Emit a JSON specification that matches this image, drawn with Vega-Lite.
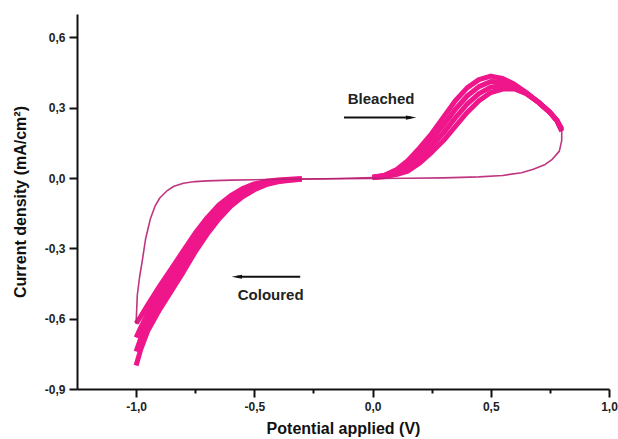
{
  "$schema": "https://vega.github.io/schema/vega-lite/v6.json",
  "autosize": {"type": "none"},
  "padding": {"left": 77, "top": 14, "right": 9, "bottom": 50},
  "width": 532,
  "height": 375,
  "background": "white",
  "datasets": {
    "cv": [
      {"s":"up","E":-1.0,"I":-0.62},{"s":"up","E":-0.995,"I":-0.5},{"s":"up","E":-0.985,"I":-0.42},{"s":"up","E":-0.975,"I":-0.36},{"s":"up","E":-0.96,"I":-0.26},{"s":"up","E":-0.94,"I":-0.175},{"s":"up","E":-0.92,"I":-0.12},{"s":"up","E":-0.9,"I":-0.085},{"s":"up","E":-0.87,"I":-0.055},{"s":"up","E":-0.84,"I":-0.035},{"s":"up","E":-0.8,"I":-0.022},{"s":"up","E":-0.75,"I":-0.015},{"s":"up","E":-0.7,"I":-0.012},{"s":"up","E":-0.6,"I":-0.009},{"s":"up","E":-0.5,"I":-0.007},{"s":"up","E":-0.4,"I":-0.005},{"s":"up","E":-0.3,"I":-0.004},{"s":"up","E":-0.2,"I":-0.003},{"s":"up","E":-0.1,"I":-0.001},{"s":"up","E":0,"I":0.002},

      {"s":"p0","E":0,"I":0.002},{"s":"p0","E":0.05,"I":0.006},{"s":"p0","E":0.1,"I":0.015},{"s":"p0","E":0.15,"I":0.03},{"s":"p0","E":0.2,"I":0.065},{"s":"p0","E":0.25,"I":0.11},{"s":"p0","E":0.3,"I":0.16},{"s":"p0","E":0.35,"I":0.22},{"s":"p0","E":0.4,"I":0.28},{"s":"p0","E":0.45,"I":0.33},{"s":"p0","E":0.5,"I":0.365},{"s":"p0","E":0.55,"I":0.38},{"s":"p0","E":0.6,"I":0.38},{"s":"p0","E":0.65,"I":0.36},{"s":"p0","E":0.7,"I":0.325},{"s":"p0","E":0.75,"I":0.28},{"s":"p0","E":0.78,"I":0.245},{"s":"p0","E":0.8,"I":0.21},

      {"s":"p1","E":0,"I":0.003},{"s":"p1","E":0.05,"I":0.008},{"s":"p1","E":0.1,"I":0.022},{"s":"p1","E":0.15,"I":0.045},{"s":"p1","E":0.2,"I":0.087},{"s":"p1","E":0.25,"I":0.137},{"s":"p1","E":0.3,"I":0.193},{"s":"p1","E":0.35,"I":0.257},{"s":"p1","E":0.4,"I":0.315},{"s":"p1","E":0.45,"I":0.36},{"s":"p1","E":0.5,"I":0.388},{"s":"p1","E":0.55,"I":0.395},{"s":"p1","E":0.6,"I":0.387},{"s":"p1","E":0.65,"I":0.362},{"s":"p1","E":0.7,"I":0.325},{"s":"p1","E":0.75,"I":0.28},{"s":"p1","E":0.78,"I":0.245},{"s":"p1","E":0.8,"I":0.207},

      {"s":"p2","E":0,"I":0.003},{"s":"p2","E":0.05,"I":0.01},{"s":"p2","E":0.1,"I":0.028},{"s":"p2","E":0.15,"I":0.06},{"s":"p2","E":0.2,"I":0.108},{"s":"p2","E":0.25,"I":0.163},{"s":"p2","E":0.3,"I":0.227},{"s":"p2","E":0.35,"I":0.293},{"s":"p2","E":0.4,"I":0.35},{"s":"p2","E":0.45,"I":0.39},{"s":"p2","E":0.5,"I":0.412},{"s":"p2","E":0.55,"I":0.41},{"s":"p2","E":0.6,"I":0.393},{"s":"p2","E":0.65,"I":0.363},{"s":"p2","E":0.7,"I":0.325},{"s":"p2","E":0.75,"I":0.28},{"s":"p2","E":0.78,"I":0.245},{"s":"p2","E":0.8,"I":0.203},

      {"s":"p3","E":0,"I":0.004},{"s":"p3","E":0.05,"I":0.012},{"s":"p3","E":0.1,"I":0.035},{"s":"p3","E":0.15,"I":0.075},{"s":"p3","E":0.2,"I":0.13},{"s":"p3","E":0.25,"I":0.19},{"s":"p3","E":0.3,"I":0.26},{"s":"p3","E":0.35,"I":0.33},{"s":"p3","E":0.4,"I":0.385},{"s":"p3","E":0.45,"I":0.42},{"s":"p3","E":0.5,"I":0.435},{"s":"p3","E":0.55,"I":0.425},{"s":"p3","E":0.6,"I":0.4},{"s":"p3","E":0.65,"I":0.365},{"s":"p3","E":0.7,"I":0.325},{"s":"p3","E":0.75,"I":0.28},{"s":"p3","E":0.78,"I":0.245},{"s":"p3","E":0.8,"I":0.2},

      {"s":"back","E":0.8,"I":0.21},{"s":"back","E":0.8,"I":0.16},{"s":"back","E":0.79,"I":0.115},{"s":"back","E":0.76,"I":0.08},{"s":"back","E":0.73,"I":0.058},{"s":"back","E":0.68,"I":0.038},{"s":"back","E":0.63,"I":0.023},{"s":"back","E":0.55,"I":0.011},{"s":"back","E":0.45,"I":0.005},{"s":"back","E":0.3,"I":0.001},{"s":"back","E":0.15,"I":-0.001},{"s":"back","E":0,"I":-0.002},{"s":"back","E":-0.15,"I":-0.003},{"s":"back","E":-0.3,"I":-0.004},

      {"s":"d0","E":-0.3,"I":-0.003},{"s":"d0","E":-0.35,"I":-0.005},{"s":"d0","E":-0.4,"I":-0.008},{"s":"d0","E":-0.45,"I":-0.014},{"s":"d0","E":-0.5,"I":-0.025},{"s":"d0","E":-0.55,"I":-0.045},{"s":"d0","E":-0.6,"I":-0.075},{"s":"d0","E":-0.65,"I":-0.115},{"s":"d0","E":-0.7,"I":-0.17},{"s":"d0","E":-0.75,"I":-0.235},{"s":"d0","E":-0.8,"I":-0.31},{"s":"d0","E":-0.85,"I":-0.385},{"s":"d0","E":-0.9,"I":-0.46},{"s":"d0","E":-0.95,"I":-0.54},{"s":"d0","E":-0.98,"I":-0.59},{"s":"d0","E":-1.0,"I":-0.62},

      {"s":"d1","E":-0.3,"I":-0.004},{"s":"d1","E":-0.35,"I":-0.006},{"s":"d1","E":-0.4,"I":-0.011},{"s":"d1","E":-0.45,"I":-0.019},{"s":"d1","E":-0.5,"I":-0.033},{"s":"d1","E":-0.55,"I":-0.057},{"s":"d1","E":-0.6,"I":-0.09},{"s":"d1","E":-0.65,"I":-0.135},{"s":"d1","E":-0.7,"I":-0.193},{"s":"d1","E":-0.75,"I":-0.262},{"s":"d1","E":-0.8,"I":-0.34},{"s":"d1","E":-0.85,"I":-0.417},{"s":"d1","E":-0.9,"I":-0.493},{"s":"d1","E":-0.95,"I":-0.577},{"s":"d1","E":-0.98,"I":-0.637},{"s":"d1","E":-1.0,"I":-0.68},

      {"s":"d2","E":-0.3,"I":-0.004},{"s":"d2","E":-0.35,"I":-0.008},{"s":"d2","E":-0.4,"I":-0.013},{"s":"d2","E":-0.45,"I":-0.023},{"s":"d2","E":-0.5,"I":-0.042},{"s":"d2","E":-0.55,"I":-0.068},{"s":"d2","E":-0.6,"I":-0.105},{"s":"d2","E":-0.65,"I":-0.155},{"s":"d2","E":-0.7,"I":-0.217},{"s":"d2","E":-0.75,"I":-0.288},{"s":"d2","E":-0.8,"I":-0.37},{"s":"d2","E":-0.85,"I":-0.448},{"s":"d2","E":-0.9,"I":-0.527},{"s":"d2","E":-0.95,"I":-0.613},{"s":"d2","E":-0.98,"I":-0.683},{"s":"d2","E":-1.0,"I":-0.74},

      {"s":"d3","E":-0.3,"I":-0.005},{"s":"d3","E":-0.35,"I":-0.009},{"s":"d3","E":-0.4,"I":-0.016},{"s":"d3","E":-0.45,"I":-0.028},{"s":"d3","E":-0.5,"I":-0.05},{"s":"d3","E":-0.55,"I":-0.08},{"s":"d3","E":-0.6,"I":-0.12},{"s":"d3","E":-0.65,"I":-0.175},{"s":"d3","E":-0.7,"I":-0.24},{"s":"d3","E":-0.75,"I":-0.315},{"s":"d3","E":-0.8,"I":-0.4},{"s":"d3","E":-0.85,"I":-0.48},{"s":"d3","E":-0.9,"I":-0.56},{"s":"d3","E":-0.95,"I":-0.65},{"s":"d3","E":-0.98,"I":-0.73},{"s":"d3","E":-1.0,"I":-0.8}
    ],
    "notes": [
      {"label":"Bleached","E":0.036,"I":0.336},
      {"label":"Coloured","E":-0.431,"I":-0.501}
    ],
    "arrows": [
      {"a":"Bleached","from":-0.121,"to":0.163,"I":0.258},
      {"a":"Coloured","from":-0.306,"to":-0.574,"I":-0.421}
    ]
  },
  "config": {
    "view": {"stroke": null},
    "axis": {
      "grid": false,
      "domainColor": "#111",
      "domainWidth": 2,
      "tickColor": "#111",
      "tickWidth": 2,
      "labelFont": "Liberation Sans",
      "labelFontWeight": "bold",
      "labelFontSize": 12,
      "labelColor": "#222",
      "titleFont": "Liberation Sans",
      "titleFontWeight": "bold",
      "titleFontSize": 16,
      "titleColor": "#111",
      "labelOverlap": false,
      "labelFlush": false
    }
  },
  "layer": [
    {
      "data": {"name": "cv"},
      "transform": [{"filter": "datum.s != 'up' && datum.s != 'back'"}],
      "mark": {"type": "line", "color": "#ee168a", "strokeWidth": 5, "opacity": 1, "strokeCap": "butt", "strokeJoin": "round"},
      "encoding": {
        "x": {
          "field": "E", "type": "quantitative",
          "scale": {"domain": [-1.25, 1.0], "nice": false, "zero": false},
          "axis": {
            "title": "Potential applied (V)",
            "values": [-1, -0.75, -0.5, -0.25, 0, 0.25, 0.5, 0.75, 1],
            "labelExpr": "round(abs(datum.value*4)) % 2 == 0 ? replace(replace(format(datum.value, '.1f'), '.', ','), '\u2212', '-') : ''",
            "tickSize": {"condition": {"test": "round(abs(datum.value*4)) % 2 == 0", "value": 8}, "value": 4},
            "labelPadding": 4,
            "titlePadding": 8
          }
        },
        "y": {
          "field": "I", "type": "quantitative",
          "scale": {"domain": [-0.9, 0.7], "nice": false, "zero": false},
          "axis": {
            "title": "Current density (mA/cm²)",
            "values": [-0.9, -0.75, -0.6, -0.45, -0.3, -0.15, 0, 0.15, 0.3, 0.45, 0.6],
            "labelExpr": "round(abs(datum.value*20)) % 6 == 0 ? replace(replace(format(datum.value, '.1f'), '.', ','), '\u2212', '-') : ''",
            "tickSize": {"condition": {"test": "round(abs(datum.value*20)) % 6 == 0", "value": 8}, "value": 4},
            "labelPadding": 4,
            "titlePadding": 16
          }
        },
        "detail": {"field": "s", "type": "nominal"},
        "order": {"value": null}
      }
    },
    {
      "data": {"name": "cv"},
      "transform": [{"filter": "datum.s == 'up' || datum.s == 'back'"}],
      "mark": {"type": "line", "color": "#b81f72", "strokeWidth": 1.6, "opacity": 0.9, "strokeCap": "round", "strokeJoin": "round"},
      "encoding": {
        "x": {"field": "E", "type": "quantitative"},
        "y": {"field": "I", "type": "quantitative"},
        "detail": {"field": "s", "type": "nominal"},
        "order": {"value": null}
      }
    },
    {
      "data": {"name": "arrows"},
      "mark": {"type": "rule", "color": "#111", "strokeWidth": 2},
      "encoding": {
        "x": {"field": "from", "type": "quantitative"},
        "x2": {"field": "to"},
        "y": {"field": "I", "type": "quantitative"}
      }
    },
    {
      "data": {"name": "arrows"},
      "mark": {"type": "point", "filled": true, "color": "#111", "opacity": 1, "size": 110},
      "encoding": {
        "x": {"field": "to", "type": "quantitative"},
        "y": {"field": "I", "type": "quantitative"},
        "shape": {
          "field": "a", "type": "nominal", "legend": null,
          "scale": {"domain": ["Bleached", "Coloured"], "range": ["M-1,-0.4L1,0L-1,0.4Z", "M1,-0.4L-1,0L1,0.4Z"]}
        }
      }
    },
    {
      "data": {"name": "notes"},
      "mark": {"type": "text", "font": "Liberation Sans", "fontWeight": "bold", "fontSize": 15, "color": "#222", "align": "center", "baseline": "middle"},
      "encoding": {
        "x": {"field": "E", "type": "quantitative"},
        "y": {"field": "I", "type": "quantitative"},
        "text": {"field": "label", "type": "nominal"}
      }
    }
  ]
}
